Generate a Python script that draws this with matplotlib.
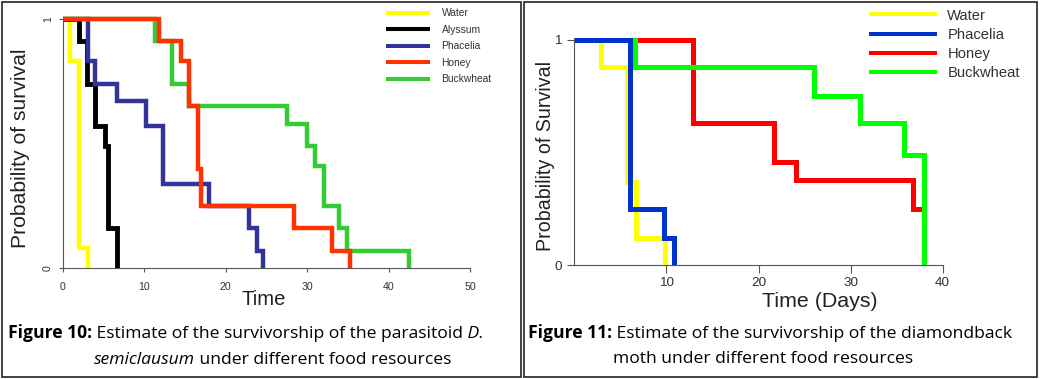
import matplotlib
matplotlib.use('Agg')
import matplotlib.pyplot as plt
from matplotlib.patches import Rectangle

# Figure 10 - parasitoid D. semiclausum (time of each drop, survival after the drop)
p_water_t = [0.9, 2.0, 3.1]
p_water_s = [0.83, 0.08, 0.0]
p_alyssum_t = [2.0, 2.9, 3.9, 5.1, 5.5, 6.6]
p_alyssum_s = [0.91, 0.74, 0.57, 0.49, 0.16, 0.0]
p_phacelia_t = [3.1, 3.9, 6.6, 10.2, 12.3, 17.9, 22.8, 23.8, 24.6]
p_phacelia_s = [0.83, 0.74, 0.67, 0.57, 0.34, 0.25, 0.16, 0.07, 0.0]
p_honey_t = [11.8, 14.5, 15.5, 16.6, 17.0, 28.4, 33.1, 35.2]
p_honey_s = [0.91, 0.83, 0.65, 0.40, 0.25, 0.16, 0.07, 0.0]
p_buck_t = [11.3, 13.35, 15.5, 27.5, 30.0, 31.0, 32.1, 33.9, 34.9, 42.5]
p_buck_s = [0.91, 0.74, 0.65, 0.58, 0.49, 0.41, 0.25, 0.16, 0.07, 0.0]

# Figure 11 - diamondback moth
m_water_t = [2.9, 5.75, 6.7, 9.9]
m_water_s = [0.88, 0.37, 0.12, 0.0]
m_phacelia_t = [6.05, 9.75, 10.85]
m_phacelia_s = [0.25, 0.12, 0.0]
m_honey_t = [12.85, 21.7, 24.05, 36.8, 38.0]
m_honey_s = [0.63, 0.46, 0.38, 0.25, 0.0]
m_buck_t = [6.6, 26.05, 31.0, 35.8, 38.0]
m_buck_s = [0.88, 0.75, 0.63, 0.49, 0.0]

W, H = 1040, 379
fig = plt.figure(figsize=(W / 100, H / 100), dpi=100)
plt.rcParams['font.family'] = ['Liberation Sans', 'DejaVu Sans']


def km(ax, t, s, color, lw):
    line, = ax.step([0] + t, [1] + s, where='post', color=color, lw=lw,
                    clip_on=False, solid_joinstyle='miter', solid_capstyle='butt')
    return line


def r_axes(ax, xlim, xticks, tick_len, size, xpad, ypad):
    ax.set_xlim(*xlim)
    ax.set_ylim(0, 1)
    for s in ['top', 'right']:
        ax.spines[s].set_visible(False)
    for s in ['left', 'bottom']:
        ax.spines[s].set_color('#555555')
        ax.spines[s].set_linewidth(0.8)
    ax.set_xticks(xticks)
    ax.set_yticks([0, 1])
    ax.tick_params(length=tick_len, width=0.8, color='#555555', labelcolor='#333333', labelsize=size)
    ax.tick_params(axis='x', pad=xpad)
    ax.tick_params(axis='y', pad=ypad)
    ax.patch.set_visible(False)


# ---- left panel ----
ax1 = fig.add_axes([63 / W, 1 - 268.3 / H, 407 / W, 249.3 / H])
r_axes(ax1, (0, 50), [0, 10, 20, 30, 40, 50], 3, 7.6, 7, 4.3)
ax1.set_yticklabels(['0', '1'], rotation=90, va='center')
l_w = km(ax1, p_water_t, p_water_s, '#FFFF00', 3.2)
l_a = km(ax1, p_alyssum_t, p_alyssum_s, '#000000', 3.5)
l_p = km(ax1, p_phacelia_t, p_phacelia_s, '#333399', 3.2)
l_b = km(ax1, p_buck_t, p_buck_s, '#33CC33', 3.2)
l_h = km(ax1, p_honey_t, p_honey_s, '#FF3300', 3.2)
ax1.set_xlabel('Time', fontsize=14.6, color='#222222', va='center')
ax1.xaxis.set_label_coords(0.494, -0.127)
ax1.set_ylabel('Probability of survival', fontsize=15.2, color='#222222', va='center')
ax1.yaxis.set_label_coords(-0.1044, 0.4826)
leg1 = ax1.legend([l_w, l_a, l_p, l_h, l_b], ['Water', 'Alyssum', 'Phacelia', 'Honey', 'Buckwheat'],
                  loc='upper left', bbox_to_anchor=(386 / W, 1 - 8.5 / H), bbox_transform=fig.transFigure,
                  frameon=False, fontsize=7.4, handlelength=4.3, handletextpad=1.1,
                  labelspacing=0.63, borderpad=0, borderaxespad=0)
for ln in leg1.get_lines():
    ln.set_linewidth(2.9)
for tx in leg1.get_texts():
    tx.set_color('#333333')

# ---- right panel ----
ax2 = fig.add_axes([574.3 / W, 1 - 265 / H, 368.4 / W, 225 / H])
r_axes(ax2, (0, 40), [10, 20, 30, 40], 5.4, 9.7, 3, 3.8)
n_w = km(ax2, m_water_t, m_water_s, '#FFFF00', 3.6)
n_h = km(ax2, m_honey_t, m_honey_s, '#FF0000', 3.6)
n_b = km(ax2, m_buck_t, m_buck_s, '#00FF00', 3.6)
n_p = km(ax2, m_phacelia_t, m_phacelia_s, '#0033CC', 3.6)
ax2.set_xlabel('Time (Days)', fontsize=15.4, color='#222222', va='center')
ax2.xaxis.set_label_coords(0.667, -0.163)
ax2.set_ylabel('Probability of Survival', fontsize=14.1, color='#222222', va='center')
ax2.yaxis.set_label_coords(-0.0795, 0.484)
leg2 = ax2.legend([n_w, n_p, n_h, n_b], ['Water', 'Phacelia', 'Honey', 'Buckwheat'],
                  loc='upper left', bbox_to_anchor=(869 / W, 1 - 8.5 / H), bbox_transform=fig.transFigure,
                  frameon=False, fontsize=10.6, handlelength=4.6, handletextpad=0.72,
                  labelspacing=0.36, borderpad=0, borderaxespad=0)
for ln in leg2.get_lines():
    ln.set_linewidth(2.9)
for tx in leg2.get_texts():
    tx.set_color('#333333')

# ---- frames ----
for x0, x1 in [(2, 520.5), (523.5, 1036.5)]:
    fig.add_artist(Rectangle((x0 / W, 1 - 376.5 / H), (x1 - x0) / W, 374.5 / H,
                             transform=fig.transFigure, fill=False, ec='#222222', lw=1.2))

# ---- captions (mixed bold / italic runs) ----
renderer = fig.canvas.get_renderer()
cap_font = ['Open Sans', 'DejaVu Sans']
cap_size = 12.6


def rich_line(cx, base_y, parts):
    texts = []
    for s, weight, style in parts:
        texts.append(fig.text(0, 1 - base_y / H, s, fontsize=cap_size, family=cap_font,
                              fontweight=weight, fontstyle=style, va='baseline', ha='left'))
    widths = [t.get_window_extent(renderer).width for t in texts]
    x = cx - sum(widths) / 2
    for t, w in zip(texts, widths):
        t.set_x(x / W)
        x += w


rich_line(245.5, 338, [('Figure 10:', 'bold', 'normal'),
                       (' Estimate of the survivorship of the parasitoid', 'normal', 'normal'),
                       (' D.', 'normal', 'italic')])
rich_line(272.2, 363.5, [('semiclausum', 'normal', 'italic'),
                         (' under different food resources', 'normal', 'normal')])
rich_line(770.5, 337.5, [('Figure 11:', 'bold', 'normal'),
                         (' Estimate of the survivorship of the diamondback', 'normal', 'normal')])
rich_line(762.8, 363, [('moth under different food resources', 'normal', 'normal')])

fig.savefig('out.png', dpi=100)
